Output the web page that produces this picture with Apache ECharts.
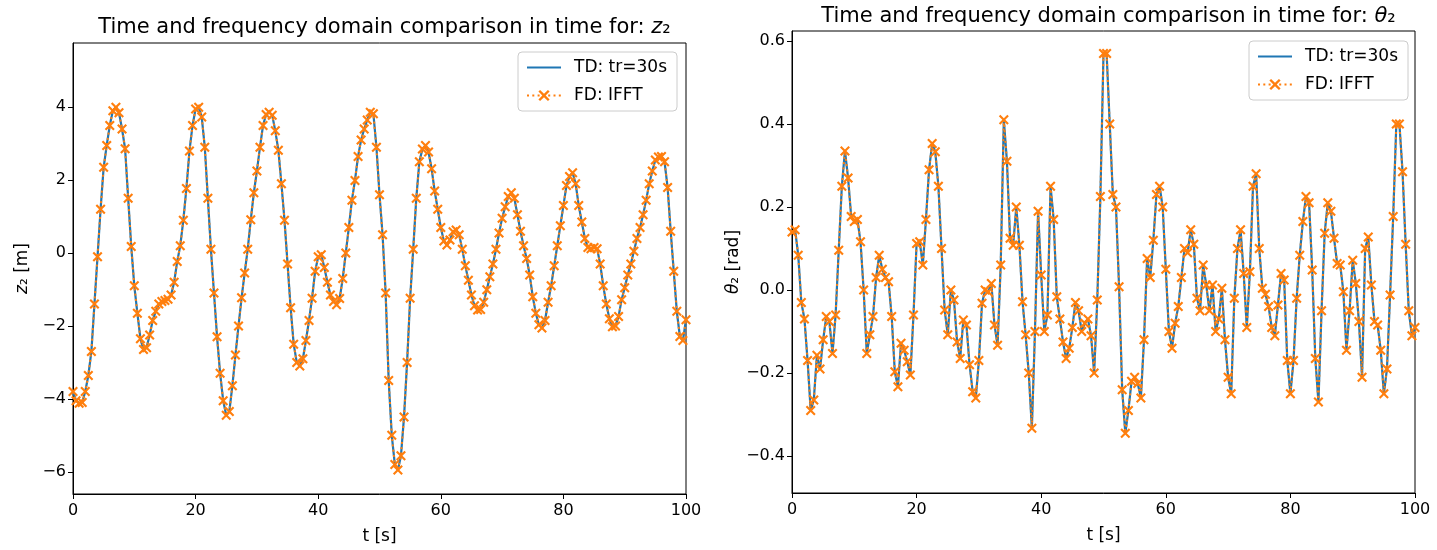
<!DOCTYPE html>
<html><head><meta charset="utf-8">
<script src="https://cdn.jsdelivr.net/npm/echarts@6/dist/echarts.min.js"></script>
<style>html,body{margin:0;padding:0;background:#fff}#c{width:1437px;height:550px}</style>
</head><body><div id="c"></div>
<script>
// sample spacing of both signals [s]
const dt = 0.5;
// z2 [m], t = 0 ... 100 s
const z2Values = [
 -3.8, -4.05, -4.12, -4.1, -3.8, -3.36, -2.7, -1.4, -0.1, 1.2,
 2.35, 2.95, 3.5, 3.9, 4.0, 3.85, 3.4, 2.86, 1.5, 0.18,
 -0.9, -1.65, -2.35, -2.65, -2.6, -2.25, -1.85, -1.6, -1.4, -1.33,
 -1.3, -1.27, -1.15, -0.8, -0.23, 0.2, 0.9, 1.77, 2.8, 3.5,
 3.95, 4.0, 3.73, 2.9, 1.5, 0.1, -1.1, -2.3, -3.3, -4.05,
 -4.45, -4.35, -3.64, -2.8, -2.0, -1.23, -0.55, 0.1, 0.91, 1.65,
 2.25, 2.9, 3.5, 3.8, 3.86, 3.78, 3.35, 2.82, 1.9, 0.9,
 -0.3, -1.5, -2.5, -3.0, -3.1, -2.9, -2.4, -1.85, -1.24, -0.5,
 -0.1, -0.05, -0.4, -0.8, -1.15, -1.33, -1.42, -1.25, -0.7, 0.0,
 0.7, 1.45, 1.99, 2.65, 3.1, 3.4, 3.65, 3.86, 3.82, 2.9,
 1.6, 0.5, -1.1, -3.5, -5.0, -5.8, -5.95, -5.56, -4.5, -3.0,
 -1.24, 0.1, 1.5, 2.5, 2.85, 2.95, 2.77, 2.31, 1.7, 1.2,
 0.7, 0.33, 0.22, 0.36, 0.58, 0.63, 0.5, 0.1, -0.35, -0.75,
 -1.15, -1.45, -1.56, -1.55, -1.35, -1.01, -0.65, -0.3, 0.1, 0.55,
 0.95, 1.27, 1.55, 1.65, 1.5, 1.05, 0.6, 0.2, -0.15, -0.6,
 -1.2, -1.65, -1.97, -2.06, -1.85, -1.35, -0.9, -0.35, 0.2, 0.75,
 1.3, 1.85, 2.1, 2.2, 1.9, 1.3, 0.85, 0.4, 0.15, 0.12,
 0.15, 0.12, -0.3, -0.9, -1.4, -1.8, -2.02, -2.0, -1.74, -1.28,
 -0.95, -0.6, -0.3, 0.05, 0.4, 0.7, 1.05, 1.45, 1.9, 2.25,
 2.55, 2.63, 2.65, 2.5, 1.8, 0.6, -0.5, -1.6, -2.29, -2.4,
 -1.83
];
// theta2 [rad], t = 0 ... 100 s
const theta2Values = [
 0.14, 0.145, 0.084, -0.03, -0.07, -0.17, -0.29, -0.265, -0.157, -0.19,
 -0.12, -0.064, -0.076, -0.153, -0.06, 0.096, 0.25, 0.335, 0.27, 0.177,
 0.165, 0.17, 0.116, 0.0, -0.153, -0.108, -0.064, 0.03, 0.084, 0.05,
 0.03, 0.02, -0.064, -0.197, -0.233, -0.128, -0.145, -0.173, -0.205, -0.06,
 0.112, 0.116, 0.06, 0.17, 0.29, 0.353, 0.333, 0.25, 0.1, -0.048,
 -0.108, 0.0, -0.024, -0.125, -0.165, -0.072, -0.084, -0.18, -0.245, -0.26,
 -0.17, -0.032, 0.0, -0.004, 0.016, -0.084, -0.133, 0.06, 0.41, 0.31,
 0.125, 0.108, 0.2, 0.108, -0.028, -0.108, -0.2, -0.333, -0.1, 0.19,
 0.036, -0.1, -0.06, 0.25, 0.17, -0.016, -0.07, -0.125, -0.165, -0.14,
 -0.09, -0.03, -0.05, -0.1, -0.08, -0.07, -0.11, -0.2, -0.024, 0.225,
 0.57, 0.57, 0.4, 0.23, 0.2, 0.008, -0.24, -0.345, -0.29, -0.22,
 -0.21, -0.225, -0.26, -0.12, 0.076, 0.03, 0.12, 0.23, 0.25, 0.2,
 0.05, -0.1, -0.14, -0.08, -0.04, 0.03, 0.1, 0.09, 0.145, 0.11,
 -0.02, -0.05, 0.06, 0.012, -0.05, 0.012, -0.1, -0.07, 0.004, -0.12,
 -0.21, -0.25, -0.02, 0.1, 0.145, 0.04, -0.09, 0.044, 0.25, 0.28,
 0.1, 0.004, -0.01, -0.04, -0.09, -0.11, -0.036, 0.04, 0.024, -0.17,
 -0.25, -0.17, -0.02, 0.084, 0.165, 0.225, 0.21, 0.048, -0.165, -0.27,
 -0.05, 0.137, 0.21, 0.19, 0.125, 0.064, 0.06, -0.004, -0.145, -0.05,
 0.072, 0.016, -0.076, -0.21, 0.1, 0.128, 0.012, -0.076, -0.084, -0.145,
 -0.25, -0.19, -0.012, 0.177, 0.4, 0.4, 0.285, 0.11, -0.05, -0.11,
 -0.09
];
const xTicks = [0, 20, 40, 60, 80, 100];
const z2Ticks = [-6, -4, -2, 0, 2, 4];
const theta2Ticks = [-0.4, -0.2, 0.0, 0.2, 0.4, 0.6];
const seriesNames = ['TD: tr=30s', 'FD: IFFT'];
const titles = ['Time and frequency domain comparison in time for: {i|z}\u2082',
                'Time and frequency domain comparison in time for: {i|\u03b8}\u2082'];
const yNames = ['{i|z}\u2082 [m]', '{i|\u03b8}\u2082 [rad]'];

const FONT = 'DejaVu Sans';
const BLUE = '#1f77b4', ORANGE = '#ff7f0e';
const X_SYMBOL = 'path://M0,1.5 L1.5,0 L5,3.5 L8.5,0 L10,1.5 L6.5,5 L10,8.5 L8.5,10 L5,6.5 L1.5,10 L0,8.5 L3.5,5 Z';
const minus = s => s.replace('-', '\u2212');

const toPairs = vals => vals.map((v, i) => [i * dt, v]);

const grids = [
  {left: 73, top: 43, width: 613, height: 452},
  {left: 792, top: 31, width: 623, height: 462}
];
const yRanges = [[-6.61, 5.76], [-0.489, 0.624]];
const yTickSets = [z2Ticks, theta2Ticks];
const yDigits = [0, 1];
const titleCenters = [379.5, 1103.5];
const titleTops = [12, 1];
const legendPos = [{right: 1437 - 677, top: 52}, {right: 1437 - 1408, top: 41}];
const data = [toPairs(z2Values), toPairs(theta2Values)];

const option = {
  animation: false,
  backgroundColor: '#fff',
  title: [0, 1].map(i => ({
    text: titles[i], left: titleCenters[i], top: titleTops[i], textAlign: 'center',
    textStyle: {fontFamily: FONT, fontSize: 21, fontWeight: 'normal', color: '#000',
      rich: {i: {fontFamily: FONT, fontSize: 21, fontStyle: 'italic', color: '#000'}}}
  })),
  legend: [0, 1].map(i => Object.assign({
    data: [{name: seriesNames[0], itemStyle: {opacity: 0}}, {name: seriesNames[1]}],
    orient: 'vertical', itemWidth: 34, itemHeight: 14, itemGap: 11,
    padding: [7, 10, 7, 8], borderColor: '#cccccc', borderWidth: 1, borderRadius: 4,
    backgroundColor: 'rgba(255,255,255,0.8)', selectedMode: false,
    textStyle: {fontFamily: FONT, fontSize: 17, color: '#000', padding: [0, 0, 0, 8]}
  }, legendPos[i])),
  grid: grids.map(g => Object.assign({show: true, borderColor: '#000', borderWidth: 1, containLabel: false}, g)),
  xAxis: [0, 1].map(i => ({
    type: 'value', gridIndex: i, min: 0, max: 100, interval: 20,
    name: 't [s]', nameLocation: 'middle', nameGap: 34,
    nameTextStyle: {fontFamily: FONT, fontSize: 17, color: '#000'},
    axisLine: {show: true, onZero: false, lineStyle: {color: '#000', width: 1}},
    axisTick: {show: true, length: 5, lineStyle: {color: '#000'}},
    axisLabel: {fontFamily: FONT, fontSize: 16, color: '#000', margin: 9,
      customValues: xTicks, formatter: v => String(v)},
    splitLine: {show: false}
  })),
  yAxis: [0, 1].map(i => ({
    type: 'value', gridIndex: i, min: yRanges[i][0], max: yRanges[i][1],
    name: yNames[i], nameLocation: 'middle', nameGap: i === 0 ? 42 : 44, nameRotate: 90,
    nameTextStyle: {fontFamily: FONT, fontSize: 17, color: '#000',
      rich: {i: {fontFamily: FONT, fontSize: 17, fontStyle: 'italic', color: '#000'}}},
    axisLine: {show: true, onZero: false, lineStyle: {color: '#000', width: 1}},
    axisTick: {show: true, length: 5, customValues: yTickSets[i], lineStyle: {color: '#000'}},
    axisLabel: {fontFamily: FONT, fontSize: 16, color: '#000', margin: 7,
      customValues: yTickSets[i], formatter: v => minus(Number(v).toFixed(yDigits[i]))},
    splitLine: {show: false}
  })),
  series: [].concat(...[0, 1].map(i => [
    {name: seriesNames[0], type: 'line', xAxisIndex: i, yAxisIndex: i, data: data[i],
      symbol: 'none', lineStyle: {color: BLUE, width: 2.2}, itemStyle: {color: BLUE},
      emphasis: {disabled: true}, z: 2},
    {name: seriesNames[1], type: 'line', xAxisIndex: i, yAxisIndex: i, data: data[i],
      symbol: X_SYMBOL, symbolSize: 10, showSymbol: true, showAllSymbol: true,
      lineStyle: {color: ORANGE, width: 2, type: [2, 3.3]}, itemStyle: {color: ORANGE},
      emphasis: {disabled: true}, z: 3}
  ]))
};
const chart = echarts.init(document.getElementById('c'), null, {renderer: 'canvas'});
chart.setOption(option);
</script>
</body></html>
